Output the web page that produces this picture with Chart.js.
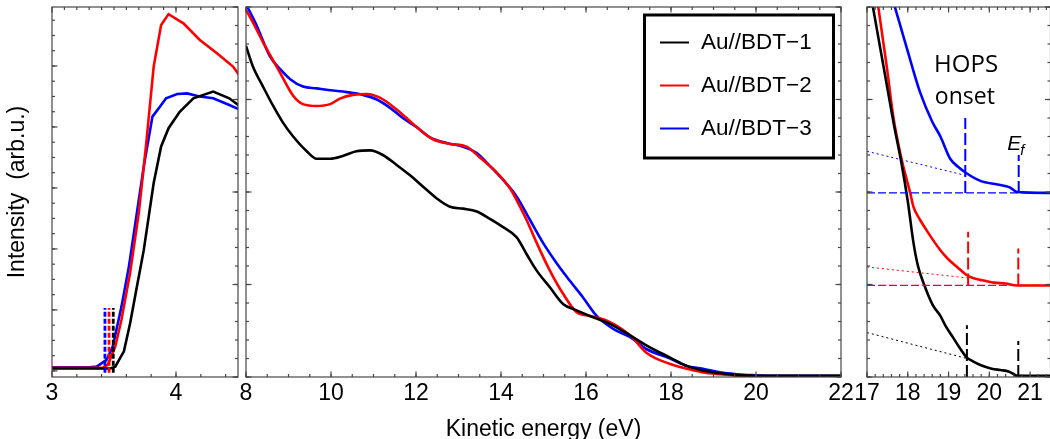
<!DOCTYPE html>
<html><head><meta charset="utf-8">
<script src="https://cdn.jsdelivr.net/npm/chart.js@4.4.1/dist/chart.umd.min.js"></script>
<style>
html,body{margin:0;padding:0;background:#fff;}
#wrap{position:relative;width:1050px;height:439px;overflow:hidden;background:#fff;}
#wrap canvas{position:absolute;left:0;top:0;}
</style></head><body>
<div id="wrap">
<canvas id="cL" width="1070" height="450"></canvas>
<canvas id="cM" width="1070" height="450"></canvas>
<canvas id="cR" width="1070" height="450"></canvas>
</div>
<script>
// ---------- series ----------
const seriesLabels = ['Au//BDT\u22121', 'Au//BDT\u22122', 'Au//BDT\u22123'];
const seriesColors = ['#000000', '#ff0000', '#0000ff'];

// left panel: secondary-electron cut-off (x: eV, y: arb.u.)
const lowBlack = [[3.0,0.04],[3.3,0.04],[3.47,0.04],[3.51,0.07],[3.58,0.32],[3.63,0.78],[3.68,1.33],[3.74,1.98],[3.82,3.08],[3.88,3.68],[3.94,3.98],[4.03,4.25],[4.14,4.47],[4.30,4.58],[4.43,4.47],[4.52,4.33]];
const lowRed   = [[3.0,0.05],[3.3,0.05],[3.41,0.05],[3.45,0.10],[3.51,0.40],[3.56,0.84],[3.63,1.61],[3.70,2.59],[3.76,3.73],[3.82,4.99],[3.88,5.67],[3.94,5.85],[4.06,5.70],[4.19,5.43],[4.33,5.21],[4.46,4.99],[4.52,4.82]];
const lowBlue  = [[3.0,0.06],[3.3,0.06],[3.36,0.07],[3.44,0.18],[3.49,0.40],[3.56,1.05],[3.62,1.71],[3.68,2.53],[3.74,3.35],[3.81,4.17],[3.87,4.33],[3.92,4.47],[4.01,4.54],[4.09,4.55],[4.19,4.50],[4.30,4.47],[4.43,4.36],[4.52,4.28]];
const lowOnsetX = [3.494, 3.46, 3.427];     // black, red, blue
const lowOnsetSpan = [-0.03, 1.03];

// middle panel: full spectrum
const midBlack = [[8.0,3.58],[8.16,3.36],[8.40,3.14],[8.64,2.93],[8.87,2.75],[9.11,2.60],[9.43,2.44],[9.66,2.36],[9.98,2.36],[10.28,2.39],[10.60,2.44],[10.92,2.45],[11.22,2.40],[11.55,2.29],[11.86,2.18],[12.16,2.06],[12.49,1.93],[12.80,1.84],[13.11,1.82],[13.43,1.79],[13.74,1.71],[14.05,1.62],[14.37,1.51],[14.60,1.33],[14.84,1.15],[15.15,0.97],[15.46,0.79],[15.78,0.72],[16.09,0.66],[16.49,0.59],[17.04,0.45],[17.43,0.34],[17.98,0.21],[18.37,0.12],[18.75,0.07],[19.15,0.04],[19.55,0.02],[20.0,0.012],[22.0,0.012]];
const midRed   = [[8.0,3.97],[8.2,3.8],[8.40,3.62],[8.80,3.29],[9.11,3.04],[9.34,2.95],[9.66,2.93],[9.98,2.95],[10.21,3.01],[10.52,3.05],[10.84,3.06],[11.15,3.02],[11.55,2.89],[12.02,2.70],[12.40,2.57],[12.80,2.52],[13.19,2.49],[13.51,2.37],[13.90,2.21],[14.21,2.04],[14.45,1.84],[14.60,1.70],[14.84,1.45],[15.15,1.15],[15.46,0.90],[15.78,0.70],[16.09,0.66],[16.49,0.61],[17.04,0.45],[17.43,0.26],[17.98,0.14],[18.37,0.09],[18.75,0.05],[19.15,0.03],[19.55,0.015],[20.0,0.01],[22.0,0.01]];
const midBlue  = [[8.0,4.03],[8.25,3.80],[8.56,3.47],[8.80,3.33],[9.04,3.22],[9.34,3.14],[9.66,3.12],[9.98,3.10],[10.37,3.08],[10.75,3.05],[11.08,3.00],[11.39,2.91],[11.69,2.80],[12.02,2.70],[12.33,2.59],[12.72,2.53],[13.11,2.49],[13.43,2.42],[13.74,2.28],[14.05,2.13],[14.37,1.95],[14.68,1.70],[14.99,1.45],[15.31,1.23],[15.62,1.04],[15.93,0.86],[16.25,0.66],[16.64,0.52],[17.04,0.43],[17.43,0.30],[17.98,0.20],[18.37,0.12],[18.75,0.09],[19.15,0.05],[19.55,0.03],[19.93,0.02],[20.5,0.012],[22.0,0.012]];

// right panel: HOPS region
const hiBlack = [[17.0,4.4],[17.15,3.99],[17.40,3.37],[17.65,2.75],[17.85,2.30],[18.0,1.90],[18.14,1.45],[18.25,1.20],[18.4,1.0],[18.61,0.78],[18.8,0.66],[18.93,0.55],[19.12,0.42],[19.25,0.33],[19.45,0.21],[19.6,0.17],[19.78,0.13],[20.06,0.09],[20.27,0.075],[20.47,0.06],[20.6,0.03],[20.68,0.012],[21.5,0.012]];
const hiRed   = [[17.0,4.8],[17.28,3.99],[17.48,3.37],[17.65,2.80],[17.85,2.35],[18.06,1.99],[18.14,1.84],[18.3,1.70],[18.47,1.58],[18.8,1.37],[19.0,1.27],[19.21,1.19],[19.45,1.10],[19.6,1.07],[19.78,1.05],[20.11,1.02],[20.4,1.01],[20.68,0.99],[21.5,0.99]];
const hiBlue  = [[17.4,4.45],[17.69,3.99],[17.98,3.55],[18.3,3.08],[18.6,2.76],[18.8,2.60],[19.04,2.36],[19.24,2.27],[19.45,2.20],[19.78,2.12],[20.2,2.08],[20.5,2.05],[20.68,2.0],[21.5,1.99]];
const hiOnsetX = [19.45, 19.48, 19.41];      // black, red, blue
const hiOnsetTop = [0.56, 1.57, 2.80];
const hiEfX = [20.71, 20.71, 20.72];
const hiEfTop = [0.39, 1.39, 2.40];
const hiBase = [0.0, 0.99, 1.99];
const hiTangentStart = [0.48, 1.19, 2.44];   // value at x = 17
const hiTangentEnd = [0.20, 1.07, 2.18];     // value at onset

// ---------- tick labels ----------
const lowXLabels = [3, 4];
const midXLabels = [8, 10, 12, 14, 16, 18, 20, 22];
const hiXLabels = [17, 18, 19, 20, 21];

// ---------- helpers ----------
const FONT = "'Liberation Sans', Arial, sans-serif";
const xy = arr => arr.map(([x, y]) => ({x, y}));
const steps = (a, b, s) => { const r = []; for (let v = a; v <= b + 1e-9; v += s) r.push(+v.toFixed(4)); return r; };
const seg = (x0, y0, x1, y1) => [{x: x0, y: y0}, {x: x1, y: y1}];

const frameTicks = {
  id: 'frameTicks',
  afterDatasetsDraw(chart, args, o) {
    const {ctx, chartArea: a} = chart;
    ctx.save();
    ctx.strokeStyle = o.color; ctx.lineWidth = 1.2;
    ctx.strokeRect(a.left, a.top, a.right - a.left, a.bottom - a.top);
    for (const s of o.sides) {
      const sc = chart.scales[s.scale];
      const draw = (v, len) => {
        if (v < sc.min - 1e-9 || v > sc.max + 1e-9) return;
        const p = sc.getPixelForValue(v);
        ctx.beginPath();
        if (s.pos === 'bottom') { ctx.moveTo(p, a.bottom); ctx.lineTo(p, a.bottom - len); }
        else if (s.pos === 'top') { ctx.moveTo(p, a.top); ctx.lineTo(p, a.top + len); }
        else if (s.pos === 'left') { ctx.moveTo(a.left, p); ctx.lineTo(a.left + len, p); }
        else { ctx.moveTo(a.right, p); ctx.lineTo(a.right - len, p); }
        ctx.stroke();
      };
      s.minor.forEach(v => draw(v, o.minorLen));
      s.major.forEach(v => draw(v, o.majorLen));
    }
    ctx.restore();
  }
};

const boxLegend = {
  id: 'boxLegend',
  afterDraw(chart, args, o) {
    const ctx = chart.ctx, a = chart.chartArea;
    const x0 = a.left + o.left, y0 = a.top + o.top;
    ctx.save();
    ctx.fillStyle = '#fff'; ctx.fillRect(x0, y0, o.width, o.height);
    ctx.lineWidth = 3; ctx.strokeStyle = '#000'; ctx.strokeRect(x0, y0, o.width, o.height);
    ctx.font = '22.5px ' + FONT; ctx.textBaseline = 'middle'; ctx.textAlign = 'left';
    chart.data.datasets.forEach((ds, i) => {
      const y = y0 + o.firstRow + i * o.rowGap;
      ctx.strokeStyle = ds.borderColor; ctx.lineWidth = 2;
      ctx.beginPath(); ctx.moveTo(x0 + 15.5, y); ctx.lineTo(x0 + 44.5, y); ctx.stroke();
      ctx.fillStyle = '#000'; ctx.fillText(ds.label, x0 + 56.5, y);
    });
    ctx.restore();
  }
};

const hopsText = {
  id: 'hopsText',
  afterDatasetsDraw(chart, args, o) {
    const {ctx} = chart; const x = chart.scales.x, y = chart.scales.y;
    ctx.save(); ctx.fillStyle = '#000'; ctx.textBaseline = 'alphabetic';
    ctx.textAlign = 'center';
    ctx.font = "24px 'Open Sans', sans-serif";
    ctx.fillText('HOPS', x.getPixelForValue(o.hops[0]), y.getPixelForValue(o.hops[1]));
    ctx.font = "23px 'Open Sans', sans-serif";
    ctx.fillText('onset', x.getPixelForValue(o.onset[0]), y.getPixelForValue(o.onset[1]));
    ctx.textAlign = 'left';
    ctx.font = "italic 21px " + FONT;
    const ex = x.getPixelForValue(o.ef[0]), ey = y.getPixelForValue(o.ef[1]);
    ctx.fillText('E', ex, ey);
    const w = ctx.measureText('E').width;
    ctx.font = "italic 15px " + FONT;
    ctx.fillText('f', ex + w - 1, ey + 5);
    ctx.restore();
  }
};

const curve = (label, data, color, tension) => ({
  label, data: xy(data), borderColor: color, borderWidth: 2.6, pointRadius: 0,
  fill: false, tension: tension, cubicInterpolationMode: tension ? 'monotone' : 'default', order: 1
});
const guide = (data, color, dash, width) => ({
  data, borderColor: color, borderWidth: width, borderDash: dash, pointRadius: 0, fill: false, tension: 0, order: 0
});

const xAxis = (min, max, labels, extra) => Object.assign({
  type: 'linear', min, max, bounds: 'data',
  grid: {display: false, drawTicks: false}, border: {display: false},
  ticks: {color: '#000', font: {family: FONT, size: 23}, padding: 3, maxRotation: 0, autoSkip: false},
  afterBuildTicks: s => { s.ticks = labels.map(v => ({value: v})); },
  afterFit: s => { s.height = 73; }
}, extra || {});

const base = (padding) => ({
  responsive: false, animation: false, devicePixelRatio: 1, events: [],
  layout: {padding},
  plugins: {legend: {display: false}, tooltip: {enabled: false}}
});

const FRAME = '#474747';

// ---------- left chart ----------
{
  const opts = base({left: 0, top: 7, right: 1070 - 238, bottom: 0});
  opts.scales = {
    x: xAxis(3, 4.5, lowXLabels),
    y: {type: 'linear', min: -0.1, max: 5.967, bounds: 'data',
        grid: {display: false, drawTicks: false}, border: {display: false}, ticks: {display: false},
        title: {display: true, text: 'Intensity  (arb.u.)', color: '#000', font: {family: FONT, size: 23}, padding: {top: 4, bottom: 0}},
        afterFit: s => { s.width = 52; }},
    yR: {type: 'linear', min: 0, max: 4, display: false}
  };
  opts.plugins.frameTicks = {color: FRAME, majorLen: 5.5, minorLen: 3, sides: [
    {pos: 'bottom', scale: 'x', major: [3, 4], minor: steps(3.2, 4.4, 0.2)},
    {pos: 'top', scale: 'x', major: [3, 4], minor: steps(3.1, 4.4, 0.1)},
    {pos: 'left', scale: 'y', major: steps(0, 5, 1), minor: steps(-0.25, 5.75, 0.25)},
    {pos: 'right', scale: 'yR', major: steps(0, 4, 1), minor: steps(0, 4, 0.2)}
  ]};
  const ds = [
    curve(seriesLabels[0], lowBlack, seriesColors[0], 0),
    curve(seriesLabels[1], lowRed, seriesColors[1], 0),
    curve(seriesLabels[2], lowBlue, seriesColors[2], 0)
  ];
  lowOnsetX.forEach((v, i) => ds.push(guide(seg(v, lowOnsetSpan[0], v, lowOnsetSpan[1]), seriesColors[i], [5, 2], 2.8)));
  new Chart(document.getElementById('cL'), {type: 'line', data: {datasets: ds}, options: opts, plugins: [frameTicks]});
}

// ---------- middle chart ----------
{
  const opts = base({left: 246, top: 7, right: 1070 - 841, bottom: 0});
  opts.scales = {
    x: xAxis(8, 22, midXLabels, {title: {display: true, text: 'Kinetic energy (eV)', color: '#000', font: {family: FONT, size: 23}, padding: {top: 0, bottom: 7}}}),
    y: {type: 'linear', min: 0, max: 4, display: false}
  };
  opts.plugins.frameTicks = {color: FRAME, majorLen: 5.5, minorLen: 3, sides: [
    {pos: 'bottom', scale: 'x', major: midXLabels, minor: steps(8, 22, 0.5)},
    {pos: 'top', scale: 'x', major: midXLabels, minor: steps(8, 22, 0.5)},
    {pos: 'left', scale: 'y', major: steps(0, 4, 1), minor: steps(0, 4, 0.2)},
    {pos: 'right', scale: 'y', major: steps(0, 4, 1), minor: steps(0, 4, 0.2)}
  ]};
  opts.plugins.boxLegend = {left: 398.5, top: 8, width: 189, height: 143, firstRow: 27.5, rowGap: 43};
  const ds = [
    curve(seriesLabels[0], midBlack, seriesColors[0], 0.4),
    curve(seriesLabels[1], midRed, seriesColors[1], 0.4),
    curve(seriesLabels[2], midBlue, seriesColors[2], 0.4)
  ];
  new Chart(document.getElementById('cM'), {type: 'line', data: {datasets: ds}, options: opts, plugins: [frameTicks, boxLegend]});
}

// ---------- right chart ----------
{
  const opts = base({left: 867, top: 7, right: 1070 - 1050.5, bottom: 0});
  opts.scales = {
    x: xAxis(17, 21.5, hiXLabels),
    y: {type: 'linear', min: 0, max: 4, display: false}
  };
  opts.plugins.frameTicks = {color: FRAME, majorLen: 5.5, minorLen: 3, sides: [
    {pos: 'bottom', scale: 'x', major: hiXLabels, minor: steps(17, 21.4, 0.2)},
    {pos: 'top', scale: 'x', major: hiXLabels, minor: steps(17, 21.4, 0.2)},
    {pos: 'left', scale: 'y', major: steps(0, 4, 1), minor: steps(0, 4, 0.2)},
    {pos: 'right', scale: 'y', major: steps(0, 4, 1), minor: steps(0, 4, 0.2)}
  ]};
  opts.plugins.hopsText = {hops: [19.43, 3.30], onset: [19.40, 2.948], ef: [20.44, 2.454]};
  const ds = [
    curve(seriesLabels[0], hiBlack, seriesColors[0], 0.4),
    curve(seriesLabels[1], hiRed, seriesColors[1], 0.4),
    curve(seriesLabels[2], hiBlue, seriesColors[2], 0.4)
  ];
  for (let i = 0; i < 3; i++) {
    const c = seriesColors[i];
    ds.push(guide(seg(hiOnsetX[i], hiBase[i], hiOnsetX[i], hiOnsetTop[i]), c, [12, 4], 2));
    ds.push(guide(seg(hiEfX[i], hiBase[i], hiEfX[i], hiEfTop[i]), c, [12, 4], 2));
    ds.push(guide(seg(17, hiTangentStart[i], hiOnsetX[i], hiTangentEnd[i]), c, [2, 3], 1));
    if (i > 0) ds.push(guide(seg(17, hiBase[i], 21.5, hiBase[i]), c, [8, 3], 1.2));
  }
  new Chart(document.getElementById('cR'), {type: 'line', data: {datasets: ds}, options: opts, plugins: [frameTicks, hopsText]});
}
</script>
</body></html>
